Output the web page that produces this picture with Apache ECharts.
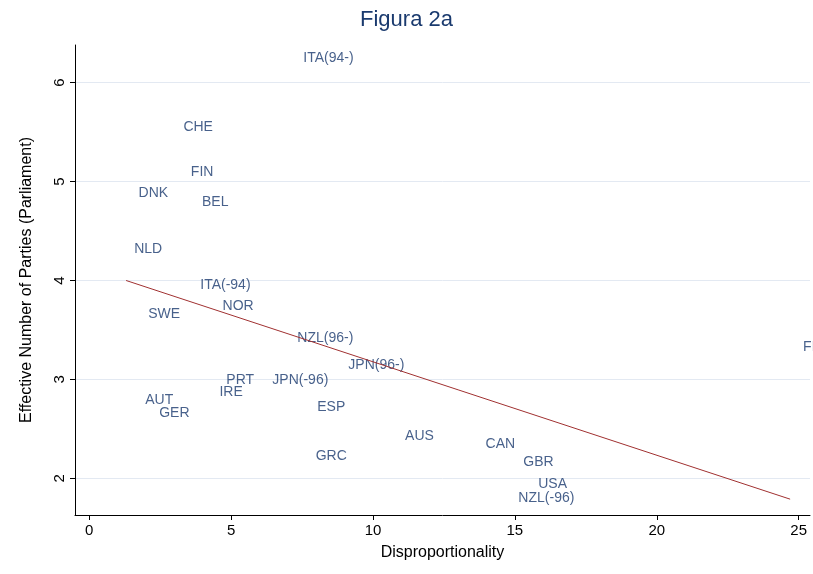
<!DOCTYPE html>
<html><head><meta charset="utf-8">
<script src="https://cdn.jsdelivr.net/npm/echarts@6/dist/echarts.min.js"></script>
<style>html,body{margin:0;background:#fff}#c{width:813px;height:574px}</style>
</head><body><div id="c"></div>
<script>
var countries = ['ITA(94-)','CHE','FIN','DNK','BEL','NLD','ITA(-94)','NOR','SWE','NZL(96-)','FRA','JPN(96-)','PRT','JPN(-96)','IRE','AUT','GER','ESP','AUS','CAN','GRC','GBR','USA','NZL(-96)'];
var dispro = [8.43,3.84,3.98,2.26,4.44,2.08,4.80,5.25,2.64,8.32,25.65,10.12,5.32,7.44,5.0,2.47,3.0,8.53,11.64,14.49,8.53,15.83,16.33,16.11];
var parties = [6.25,5.55,5.10,4.88,4.79,4.32,3.95,3.74,3.66,3.42,3.33,3.14,2.99,2.99,2.87,2.79,2.66,2.72,2.43,2.35,2.22,2.16,1.94,1.80];
var fitX = [1.3, 24.7];
var fitY = [4.0, 1.79];
var xTicks = [0,5,10,15,20,25];
var yTicks = [2,3,4,5,6];

var chart = echarts.init(document.getElementById('c'));
var pts = countries.map(function(n,i){ return {name:n, value:[dispro[i], parties[i]]}; });
chart.setOption({
  animation:false,
  title:{text:'Figura 2a', left:'center', top:4, textStyle:{color:'#1a3a6e', fontSize:22, fontWeight:'normal', fontFamily:'Liberation Sans'}},
  grid:{left:75, right:3, top:45, bottom:59},
  xAxis:{type:'value', min:-0.5, max:25.4,
    name:'Disproportionality', nameLocation:'middle', nameGap:30,
    nameTextStyle:{color:'#000', fontSize:16, fontFamily:'Liberation Sans'},
    axisLine:{onZero:false, lineStyle:{color:'#000'}},
    axisLabel:{color:'#000', fontSize:15, fontFamily:'Liberation Sans', customValues:xTicks},
    axisTick:{customValues:xTicks, length:5, lineStyle:{color:'#000'}},
    splitLine:{show:false}},
  yAxis:{type:'value', min:1.63, max:6.38,
    name:'Effective Number of Parties (Parliament)', nameLocation:'middle', nameGap:40,
    nameTextStyle:{color:'#000', fontSize:16, fontFamily:'Liberation Sans'},
    axisLine:{show:true, onZero:false, lineStyle:{color:'#000'}},
    axisLabel:{color:'#000', fontSize:15, rotate:90, fontFamily:'Liberation Sans', customValues:yTicks},
    axisTick:{show:true, customValues:yTicks, length:5, lineStyle:{color:'#000'}},
    splitLine:{show:true, lineStyle:{color:'#e3e9f2'}}},
  series:[
    {type:'scatter', data:pts, symbolSize:1, clip:false, itemStyle:{color:'rgba(0,0,0,0)'},
     label:{show:true, position:'inside', formatter:'{b}', color:'#1a3a6e', fontSize:14, fontFamily:'Liberation Sans'}},
    {type:'line', data:[[fitX[0],fitY[0]],[fitX[1],fitY[1]]], symbol:'none', lineStyle:{color:'#a03030', width:1}}
  ]
});
</script></body></html>
